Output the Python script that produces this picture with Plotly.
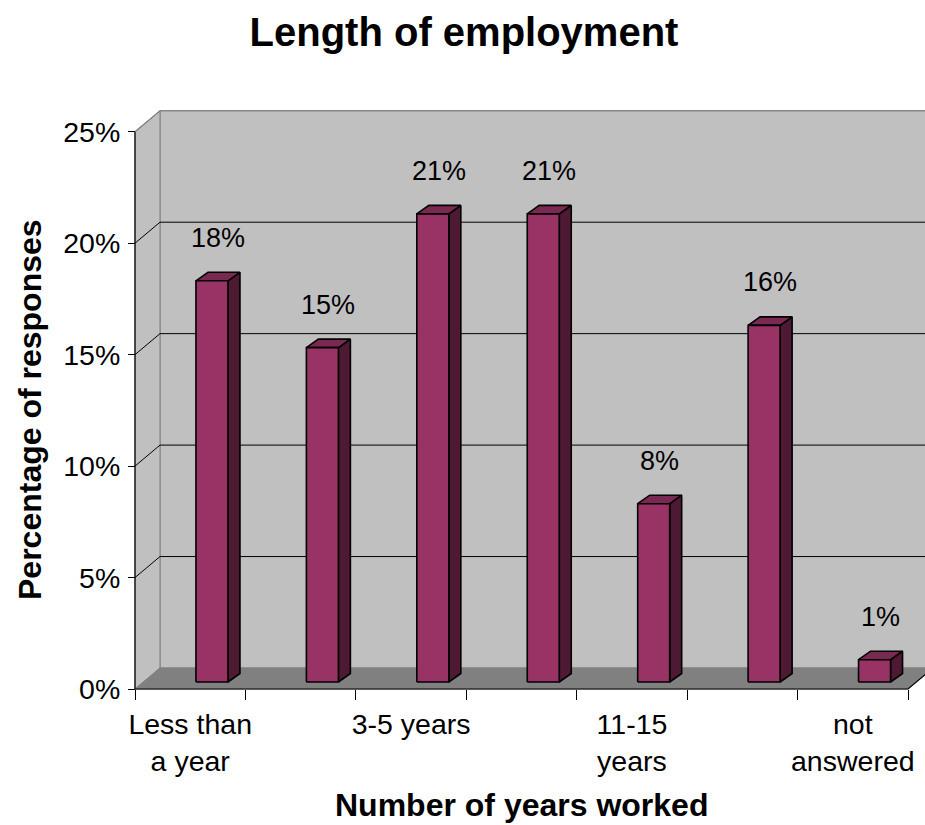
import plotly.graph_objects as go

# ---- data ----
categories = ["Less than a year", "1-2 years", "3-5 years", "6-10 years",
              "11-15 years", "over 15 years", "not answered"]
tick_labels = ["Less than<br>a year", "", "3-5 years", "", "11-15<br>years", "", "not<br>answered"]
values = [18, 15, 21, 21, 8, 16, 1]
y_ticks = [0, 5, 10, 15, 20, 25]
y_tick_labels = ["0%", "5%", "10%", "15%", "20%", "25%"]

# ---- style / geometry (in axis units) ----
FONT = "Liberation Sans, Arial, sans-serif"
PX_CAT = 110.43
PX_PCT = 22.29
WALL_DX = 25 / PX_CAT
WALL_DY = 21 / PX_PCT
BAR_X0 = 0.052
BAR_W = 32 / PX_CAT
BAR_LIFT = 7 / PX_PCT
BAR_DX = 12 / PX_CAT
BAR_DY = 8.5 / PX_PCT
C_FRONT = "#993366"
C_TOP = "#7A2952"
C_SIDE = "#4D1933"
C_WALL = "#C0C0C0"
C_FLOOR = "#808080"
C_EDGE = "#808080"

n = len(categories)
x_lo, x_hi = -0.5, n - 0.5
ymax = y_ticks[-1]

fig = go.Figure()


def poly(xs, ys, fill, line_color, lw=1.0):
    fig.add_trace(go.Scatter(x=list(xs) + [xs[0]], y=list(ys) + [ys[0]], mode="lines",
                             fill="toself", fillcolor=fill,
                             line=dict(color=line_color, width=lw),
                             hoverinfo="skip", showlegend=False))


def seg(xs, ys, color, lw=1.0):
    fig.add_trace(go.Scatter(x=xs, y=ys, mode="lines", line=dict(color=color, width=lw),
                             hoverinfo="skip", showlegend=False))


# back wall
poly([x_lo + WALL_DX, 7.5, 7.5, x_lo + WALL_DX],
     [WALL_DY, WALL_DY, ymax + WALL_DY, ymax + WALL_DY], C_WALL, C_EDGE)
# side wall
poly([x_lo, x_lo, x_lo + WALL_DX, x_lo + WALL_DX],
     [0, ymax, ymax + WALL_DY, WALL_DY], C_WALL, C_EDGE)
# floor
poly([x_lo, x_hi, x_hi + WALL_DX, x_lo + WALL_DX],
     [0, 0, WALL_DY, WALL_DY], C_FLOOR, C_FLOOR)

# gridlines
for v in y_ticks[1:-1]:
    seg([x_lo, x_lo + WALL_DX, 7.5], [v, v + WALL_DY, v + WALL_DY], "#000000", 1)

# bars
for i, v in enumerate(values):
    x0 = i + BAR_X0
    x1 = x0 + BAR_W
    yb = BAR_LIFT
    yt = v + BAR_LIFT
    # side
    poly([x1, x1 + BAR_DX, x1 + BAR_DX, x1],
         [yb, yb + BAR_DY, yt + BAR_DY, yt], C_SIDE, "#000000", 1.6)
    # top
    poly([x0, x1, x1 + BAR_DX, x0 + BAR_DX],
         [yt, yt, yt + BAR_DY, yt + BAR_DY], C_TOP, "#000000", 1.6)
    # front
    poly([x0, x1, x1, x0], [yb, yb, yt, yt], C_FRONT, "#000000", 1.6)
    fig.add_annotation(x=x0 + (BAR_W + BAR_DX) / 2, y=yt, yshift=43,
                       text=f"{v}%", showarrow=False, yanchor="middle",
                       font=dict(family=FONT, size=27, color="#000000"))

# axis lines (front edges)
seg([x_lo, x_lo], [0, ymax], "#000000", 1.2)
seg([x_lo, x_hi, x_hi + WALL_DX], [0, 0, WALL_DY], "#000000", 1.2)
seg([x_lo, x_lo + WALL_DX, 7.5], [ymax, ymax + WALL_DY, ymax + WALL_DY], C_EDGE, 1.2)

# ---- layout ----
W, H = 925, 825
ML, MR, MT, MB = 125, 0, 100, 126
plot_w = W - ML - MR
plot_h = H - MT - MB
front_left_px = 135
front_bottom_px = 689
x_range = [x_lo - (front_left_px - ML) / PX_CAT, x_lo + (W - MR - front_left_px) / PX_CAT]
y_range = [-(H - MB - front_bottom_px) / PX_PCT, (front_bottom_px - MT) / PX_PCT]

fig.update_layout(
    width=W, height=H,
    margin=dict(l=ML, r=MR, t=MT, b=MB),
    paper_bgcolor="white", plot_bgcolor="white",
    showlegend=False,
    title=dict(text="<b>Length of employment</b>", x=464 / W, xref="container",
               y=1 - 32 / H, yref="container", xanchor="center", yanchor="middle",
               font=dict(family=FONT, size=40, color="#000000")),
    xaxis=dict(range=x_range, anchor="free",
               position=(H - MB - front_bottom_px) / plot_h,
               tickmode="array", tickvals=list(range(n)), ticktext=tick_labels,
               ticks="", showgrid=False, zeroline=False, showline=False,
               ticklabelstandoff=15,
               tickfont=dict(family=FONT, size=28.5, color="#000000"),
               minor=dict(tickmode="linear", tick0=-0.5, dtick=1, ticks="outside",
                          ticklen=10, tickcolor="#000000", tickwidth=1.2, showgrid=False)),
    yaxis=dict(range=y_range, anchor="free",
               position=(front_left_px - ML) / plot_w,
               tickmode="array", tickvals=y_ticks, ticktext=y_tick_labels,
               ticks="outside", ticklen=7, tickcolor="#000000", tickwidth=1.2,
               showgrid=False, zeroline=False, showline=False,
               ticklabelstandoff=2,
               tickfont=dict(family=FONT, size=28.5, color="#000000")),
)

fig.add_annotation(text="<b>Number of years worked</b>", xref="paper", yref="paper",
                   x=(521 - ML) / plot_w, y=(H - MB - 805) / plot_h,
                   xanchor="center", yanchor="middle", showarrow=False,
                   font=dict(family=FONT, size=32, color="#000000"))
fig.add_annotation(text="<b>Percentage of responses</b>", xref="paper", yref="paper",
                   x=(30 - ML) / plot_w, y=(H - MB - 410) / plot_h, textangle=-90,
                   xanchor="center", yanchor="middle", showarrow=False,
                   font=dict(family=FONT, size=32, color="#000000"))

fig.write_html("out.html")
